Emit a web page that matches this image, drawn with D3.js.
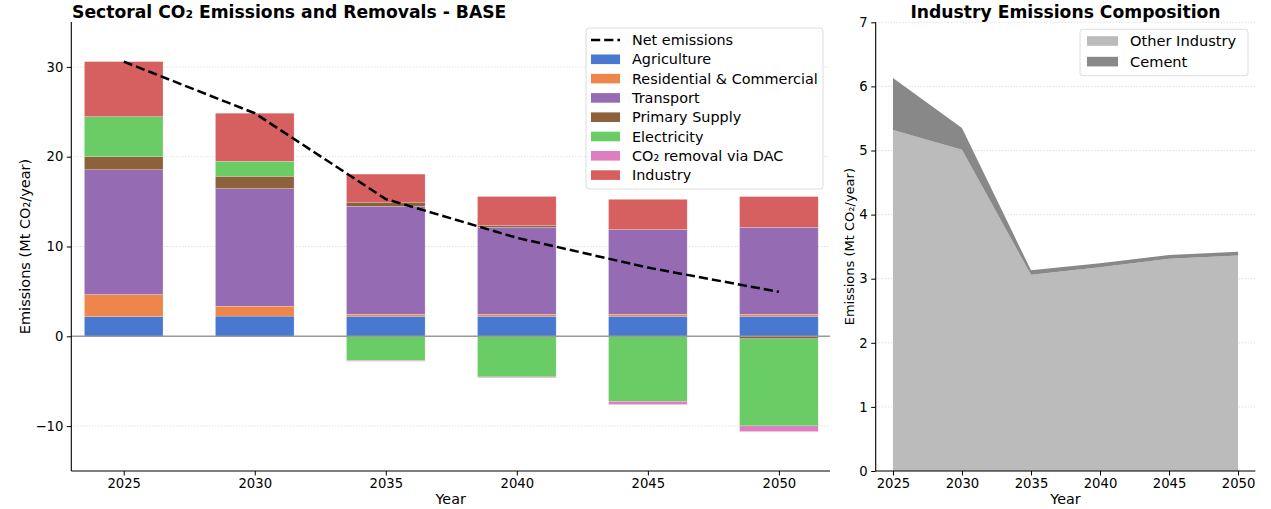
<!DOCTYPE html>
<html>
<head>
<meta charset="utf-8">
<script src="https://cdn.jsdelivr.net/npm/d3@7"></script>
<style>
  html, body { margin: 0; padding: 0; background: #fff; }
  svg { display: block; font-family: "DejaVu Sans", sans-serif; }
</style>
</head>
<body>
<svg id="chart" width="1271" height="509"></svg>
<script>
// ---- data (Mt CO2 / year) ----
const years = [2025, 2030, 2035, 2040, 2045, 2050];

const agriculture   = [2.20, 2.25, 2.23, 2.23, 2.23, 2.23];
const residential   = [2.45, 1.10, 0.22, 0.22, 0.22, 0.22];
const transport     = [13.90, 13.10, 12.03, 9.69, 9.43, 9.69];
const primarySupply = [1.45, 1.37, 0.45, 0.19, 0.00, -0.28];
const electricity   = [4.46, 1.67, -2.70, -4.52, -7.24, -9.70];
const dacRemoval    = [0.00, 0.00, -0.08, -0.08, -0.36, -0.63];

// industry split (right panel); the Industry bar segment is their total
const otherIndustry = [5.32, 5.01, 3.06, 3.18, 3.31, 3.36];
const cement        = [0.81, 0.34, 0.07, 0.06, 0.06, 0.06];
const industry      = [6.13, 5.35, 3.13, 3.24, 3.37, 3.42];

const netEmissions  = [30.59, 24.84, 15.28, 10.97, 7.65, 4.95];

const leftYTicks  = [-10, 0, 10, 20, 30];
const rightYTicks = [0, 1, 2, 3, 4, 5, 6, 7];

const sectors = [
  { name: "Agriculture",              values: agriculture,   color: "#4878D0" },
  { name: "Residential & Commercial", values: residential,   color: "#EE854A" },
  { name: "Transport",                values: transport,     color: "#956CB4" },
  { name: "Primary Supply",           values: primarySupply, color: "#8C613C" },
  { name: "Electricity",              values: electricity,   color: "#6ACC64" },
  { name: "CO\u2082 removal via DAC", values: dacRemoval,    color: "#DC7EC0" },
  { name: "Industry",                 values: industry,      color: "#D65F5F" }
];

const industryParts = [
  { name: "Other Industry", values: otherIndustry, color: "#BBBBBB" },
  { name: "Cement",         values: cement,        color: "#888888" }
];

const svg = d3.select("#chart");
const fmtTick = d => d < 0 ? "\u2212" + Math.abs(d) : String(d);

// ================= left panel: stacked sector bars =================
const L = { x0: 71.3, x1: 830, y0: 22, y1: 471 };
const xL = d3.scaleLinear().domain([-0.4, 5.39]).range([L.x0, L.x1]);
const yL = d3.scaleLinear().domain([-15, 35]).range([L.y1, L.y0]);
const barW = xL(0.6) - xL(0);

const gL = svg.append("g");

// horizontal dotted grid
gL.append("g").selectAll("line").data(leftYTicks).join("line")
  .attr("x1", L.x0).attr("x2", L.x1)
  .attr("y1", d => yL(d)).attr("y2", d => yL(d))
  .attr("stroke", "#c8c8c8").attr("stroke-width", 0.8)
  .attr("stroke-dasharray", "1,2");

// stack positives upward and negatives downward, in sector order
const segs = [];
years.forEach((yr, i) => {
  let pos = 0, neg = 0;
  sectors.forEach(s => {
    const v = s.values[i];
    if (v > 0) { segs.push({ i, s, lo: pos, hi: pos + v }); pos += v; }
    else if (v < 0) { segs.push({ i, s, lo: neg + v, hi: neg }); neg += v; }
  });
});

gL.append("g").selectAll("rect").data(segs).join("rect")
  .attr("x", d => xL(d.i) - barW / 2)
  .attr("width", barW)
  .attr("y", d => yL(d.hi))
  .attr("height", d => yL(d.lo) - yL(d.hi))
  .attr("fill", d => d.s.color)
  .attr("stroke", "#ffffff").attr("stroke-opacity", 0.35).attr("stroke-width", 0.6);

// zero line
gL.append("line")
  .attr("x1", L.x0).attr("x2", L.x1)
  .attr("y1", yL(0)).attr("y2", yL(0))
  .attr("stroke", "#9a9a9a").attr("stroke-width", 1.6);

// net emissions
gL.append("path")
  .datum(netEmissions)
  .attr("d", d3.line().x((d, i) => xL(i)).y(d => yL(d)))
  .attr("fill", "none").attr("stroke", "#000")
  .attr("stroke-width", 2.5).attr("stroke-dasharray", "9.2,4");

// axes
const axL = d3.axisLeft(yL).tickValues(leftYTicks).tickFormat(fmtTick).tickSize(4.5).tickPadding(3.5);
const axB = d3.axisBottom(xL).tickValues(d3.range(years.length)).tickFormat(i => years[i]).tickSize(4.5).tickPadding(3.5);

const gAxL = gL.append("g").attr("transform", `translate(${L.x0},0)`).call(axL);
gAxL.select(".domain").attr("d", `M0,${L.y0}V${L.y1}`);
const gAxB = gL.append("g").attr("transform", `translate(0,${L.y1})`).call(axB);
gAxB.select(".domain").attr("d", `M${L.x0},0H${L.x1}`);
[gAxL, gAxB].forEach(g => {
  g.selectAll("text").attr("font-size", 13.2).attr("fill", "#000").attr("font-family", "DejaVu Sans");
  g.select(".domain").attr("stroke", "#000").attr("stroke-width", 1.1);
  g.selectAll(".tick line").attr("stroke", "#000").attr("stroke-width", 1);
});

// titles and labels
gL.append("text").attr("x", 72).attr("y", 17.5)
  .attr("font-size", 17.2).attr("font-weight", "bold")
  .text("Sectoral CO\u2082 Emissions and Removals - BASE");
gL.append("text").attr("x", (L.x0 + L.x1) / 2).attr("y", 503.5)
  .attr("text-anchor", "middle").attr("font-size", 14.3).text("Year");
gL.append("text").attr("transform", `translate(30,${(L.y0 + L.y1) / 2}) rotate(-90)`)
  .attr("text-anchor", "middle").attr("font-size", 14.5).text("Emissions (Mt CO\u2082/year)");

// legend
const legendFont = 14.4;
const lg = gL.append("g");
lg.append("rect").attr("x", 586).attr("y", 28).attr("width", 237).attr("height", 161)
  .attr("rx", 3).attr("fill", "#fff").attr("fill-opacity", 0.85)
  .attr("stroke", "#dcdcdc").attr("stroke-width", 1);
const rowY = i => 40 + i * 19.3;
lg.append("line").attr("x1", 591).attr("x2", 620).attr("y1", rowY(0)).attr("y2", rowY(0))
  .attr("stroke", "#000").attr("stroke-width", 2.5).attr("stroke-dasharray", "9.2,4");
lg.append("text").attr("x", 632).attr("y", rowY(0)).attr("dy", "0.36em")
  .attr("font-size", legendFont).text("Net emissions");
sectors.forEach((s, k) => {
  const y = rowY(k + 1);
  lg.append("rect").attr("x", 591).attr("y", y - 4.8).attr("width", 29).attr("height", 9.6).attr("fill", s.color);
  lg.append("text").attr("x", 632).attr("y", y).attr("dy", "0.36em").attr("font-size", legendFont).text(s.name);
});

// ================= right panel: industry composition =================
const R = { x0: 875.7, x1: 1255.3, y0: 22.3, y1: 471 };
const xR = d3.scaleLinear().domain([2023.75, 2051.25]).range([R.x0, R.x1]);
const yR = d3.scaleLinear().domain([0, 7]).range([R.y1, R.y0]);

const gR = svg.append("g");
gR.append("g").selectAll("line").data(rightYTicks).join("line")
  .attr("x1", R.x0).attr("x2", R.x1)
  .attr("y1", d => yR(d)).attr("y2", d => yR(d))
  .attr("stroke", "#c8c8c8").attr("stroke-width", 0.8)
  .attr("stroke-dasharray", "1,2");

const tableR = years.map((yr, i) => ({ year: yr, other: otherIndustry[i], cement: cement[i] }));
const stackR = d3.stack().keys(["other", "cement"])(tableR);
const area = d3.area().x(d => xR(d.data.year)).y0(d => yR(d[0])).y1(d => yR(d[1]));
gR.append("g").selectAll("path").data(stackR).join("path")
  .attr("d", area).attr("fill", (d, k) => industryParts[k].color);

const axRL = d3.axisLeft(yR).tickValues(rightYTicks).tickFormat(d3.format("d")).tickSize(4.5).tickPadding(3.5);
const axRB = d3.axisBottom(xR).tickValues(years).tickFormat(d3.format("d")).tickSize(4.5).tickPadding(3.5);
const gAxRL = gR.append("g").attr("transform", `translate(${R.x0},0)`).call(axRL);
gAxRL.select(".domain").attr("d", `M0,${R.y0}V${R.y1}`);
const gAxRB = gR.append("g").attr("transform", `translate(0,${R.y1})`).call(axRB);
gAxRB.select(".domain").attr("d", `M${R.x0},0H${R.x1}`);
[gAxRL, gAxRB].forEach(g => {
  g.selectAll("text").attr("font-size", 13.2).attr("fill", "#000").attr("font-family", "DejaVu Sans");
  g.select(".domain").attr("stroke", "#000").attr("stroke-width", 1.1);
  g.selectAll(".tick line").attr("stroke", "#000").attr("stroke-width", 1);
});

gR.append("text").attr("x", (R.x0 + R.x1) / 2).attr("y", 17.5)
  .attr("text-anchor", "middle").attr("font-size", 17.2).attr("font-weight", "bold")
  .text("Industry Emissions Composition");
gR.append("text").attr("x", (R.x0 + R.x1) / 2).attr("y", 503.5)
  .attr("text-anchor", "middle").attr("font-size", 14.3).text("Year");
gR.append("text").attr("transform", `translate(853.5,${(R.y0 + R.y1) / 2}) rotate(-90)`)
  .attr("text-anchor", "middle").attr("font-size", 13).text("Emissions (Mt CO\u2082/year)");

const rg = gR.append("g");
rg.append("rect").attr("x", 1080).attr("y", 29.3).attr("width", 168).attr("height", 46.4)
  .attr("rx", 3).attr("fill", "#fff").attr("fill-opacity", 0.85)
  .attr("stroke", "#dcdcdc").attr("stroke-width", 1);
industryParts.forEach((p, k) => {
  const y = 41 + k * 20.6;
  rg.append("rect").attr("x", 1087).attr("y", y - 4.8).attr("width", 31).attr("height", 9.6).attr("fill", p.color);
  rg.append("text").attr("x", 1130).attr("y", y).attr("dy", "0.36em").attr("font-size", 14.6).text(p.name);
});
</script>
</body>
</html>
